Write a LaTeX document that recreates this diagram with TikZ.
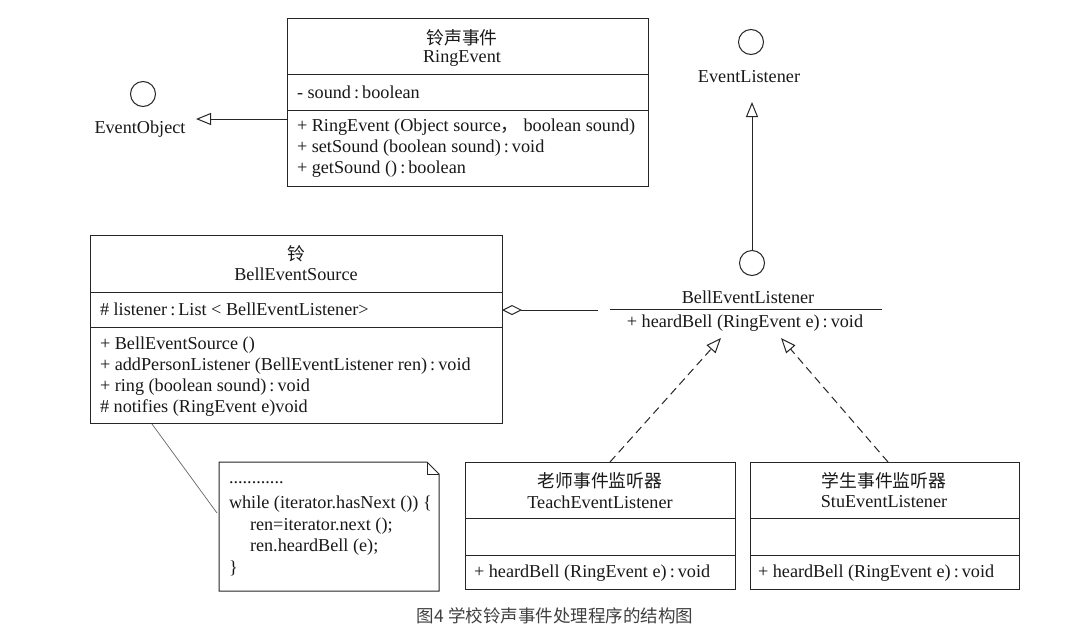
\documentclass[tikz,border=0pt]{standalone}
\usepackage{fontspec}
\setmainfont{Liberation Serif}
\newfontfamily\cjk{Noto Sans CJK SC}
\usetikzlibrary{arrows.meta}
\newcommand{\cl}{\,:\,}
\begin{document}
\begin{tikzpicture}[x=1pt,y=-1pt,
  line width=1pt,
  every node/.style={inner sep=0pt, outer sep=0pt},
  umlbox/.style={draw=black!85, rectangle},
  txt/.style={font=\fontsize{18.2}{20}\selectfont, text=black!90},
  ctxt/.style={font=\cjk\fontsize{17.8}{20}\selectfont, text=black!90},
  lolly/.style={draw=black!85, circle, minimum size=25pt},
  gen/.style={-{Triangle[open,length=15pt,width=12pt]}, draw=black!85},
  real/.style={-{Triangle[open,length=15pt,width=12pt]}, draw=black!85, dash pattern=on 8pt off 5pt},
  agg/.style={{Diamond[open,length=20pt,width=10pt]}-, draw=black!85}
]
\useasboundingbox (0,0) rectangle (1090,643);
\fill[white] (0,0) rectangle (1090,643);

% RingEvent
\node[umlbox, minimum width=361pt, minimum height=168pt, anchor=north west] (ring) at (287,18) {};
\draw[black!85] (287,74) -- (648,74);
\draw[black!85] (287,110) -- (648,110);
\node[ctxt] (ringcn) at (462,38) {铃声事件};
\node[txt] (ringen) at (462,58) {RingEvent};
\node[txt, anchor=west] (ringa1) at (297,92) {- sound\cl boolean};
\node[txt, anchor=west] (ringm1) at (297,127) {+ RingEvent (Object source{\cjk ，} boolean sound)};
\node[txt, anchor=west] (ringm2) at (297,148) {+ setSound (boolean sound)\cl void};
\node[txt, anchor=west] (ringm3) at (297,169) {+ getSound ()\cl boolean};

% EventObject
\node[lolly] (eo) at (143,94) {};
\node[txt] (eolabel) at (140,129) {EventObject};
\coordinate (eotip) at (196,119);
\draw[gen] (ring.west |- 0,119) -- (eotip);

% EventListener
\node[lolly] (el) at (751,42) {};
\node[txt] (ellabel) at (749,77) {EventListener};

% BellEventListener interface
\node[lolly] (bel) at (752,263) {};
\coordinate (eltip) at (752,102);
\draw[gen] (bel.north) -- (eltip);
\node[txt] (bellabel) at (748,297) {BellEventListener};
\coordinate (belL) at (610,309);
\coordinate (belR) at (882,309);
\draw[black!85] (belL) -- (belR);
\node[txt] (belm) at (745,323) {+ heardBell (RingEvent e)\cl void};

% BellEventSource
\node[umlbox, minimum width=412pt, minimum height=188pt, anchor=north west] (bell) at (90,235) {};
\draw[black!85] (90,292) -- (502,292);
\draw[black!85] (90,327) -- (502,327);
\node[ctxt] (bellcn) at (296,254) {铃};
\node[txt] (bellen) at (296,274) {BellEventSource};
\node[txt, anchor=west] (bella1) at (100,309) {\# listener\cl List < BellEventListener>};
\node[txt, anchor=west] (bellm1) at (100,345) {+ BellEventSource ()};
\node[txt, anchor=west] (bellm2) at (100,366) {+ addPersonListener (BellEventListener ren)\cl void};
\node[txt, anchor=west] (bellm3) at (100,387) {+ ring (boolean sound)\cl void};
\node[txt, anchor=west] (bellm4) at (100,408) {\# notifies (RingEvent e)void};
\coordinate (aggend) at (598,310);
\draw[agg] (bell.east |- 0,310) -- (aggend);

% Note
\coordinate (notepin) at (217,513);
\draw[black!60, line width=0.7pt] (152,424) -- (notepin);
\draw[black!85] (219,462) -- (427,462) -- (439,474) -- (439,591) -- (219,591) -- cycle;
\draw[black!85] (427,462) -- (427,474) -- (439,474);
\node[txt, anchor=west] (n1) at (229,483) {............};
\node[txt, anchor=west] (n2) at (229,504) {while (iterator.hasNext ()) \{};
\node[txt, anchor=west] (n3) at (250,526) {ren=iterator.next ();};
\node[txt, anchor=west] (n4) at (250,547) {ren.heardBell (e);};
\node[txt, anchor=west] (n5) at (229,568) {\}};

% TeachEventListener
\node[umlbox, minimum width=270pt, minimum height=127pt, anchor=north west] (teach) at (465,462) {};
\draw[black!85] (465,518) -- (735,518);
\draw[black!85] (465,555) -- (735,555);
\node[ctxt] (teachcn) at (600,481) {老师事件监听器};
\node[txt] (teachen) at (600,502) {TeachEventListener};
\node[txt, anchor=west] (teachm) at (474,573) {+ heardBell (RingEvent e)\cl void};

% StuEventListener
\node[umlbox, minimum width=269pt, minimum height=127pt, anchor=north west] (stu) at (750,462) {};
\draw[black!85] (750,518) -- (1019,518);
\draw[black!85] (750,555) -- (1019,555);
\node[ctxt] (stucn) at (884,481) {学生事件监听器};
\node[txt] (stuen) at (884,502) {StuEventListener};
\node[txt, anchor=west] (stum) at (758,573) {+ heardBell (RingEvent e)\cl void};

% realizations
\coordinate (tipA) at (721,338);
\coordinate (tipB) at (781,338);
\draw[real] (teach.north -| 610,0) -- (tipA);
\draw[real] (stu.north -| 888,0) -- (tipB);

% caption
\node[font=\cjk\fontsize{17.5}{20}\selectfont, text=black!75] (cap) at (555,616) {图4 学校铃声事件处理程序的结构图};
\end{tikzpicture}
\end{document}
